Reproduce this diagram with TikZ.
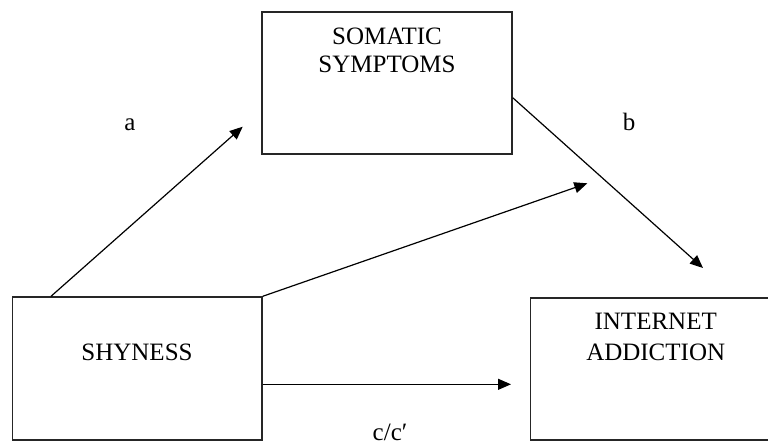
\documentclass[tikz,border=0pt]{standalone}
\usepackage{fontspec}
\setmainfont{Liberation Serif}
\usetikzlibrary{arrows.meta,calc}
\begin{document}
\begin{tikzpicture}[x=1pt,y=-1pt,
  box/.style={draw=black!85, line width=1.4pt, minimum width=250pt, minimum height=142pt, inner sep=0pt},
  txt/.style={font=\fontsize{25}{30}\selectfont, anchor=base, inner sep=0pt},
  lbl/.style={font=\fontsize{25}{30}\selectfont, anchor=base, inner sep=0pt},
  arr/.style={line width=1.2pt, -{Triangle[length=13pt,width=11pt]}}]
\useasboundingbox (0,0) rectangle (768,445);
\clip (0,0) rectangle (768,445);
\node[box] (som) at (387,83) {};
\node[box, minimum width=249.5pt, minimum height=143pt] (shy) at (137.25,368.5) {};
\node[box] (int) at (655.5,369) {};
\node[txt] (somt1) at (387,44.3) {SOMATIC};
\node[txt] (somt2) at (387,72.3) {SYMPTOMS};
\node[txt] (shyt) at (137,360) {SHYNESS};
\node[txt] (intt1) at (655.7,329.3) {INTERNET};
\node[txt] (intt2) at (655.7,360) {ADDICTION};
\node[lbl] (la) at (130,130) {a};
\node[lbl] (lb) at (629,130) {b};
\node[lbl] (lc) at (390,440) {c/c′};
\coordinate (ta) at (242.7,126.7);
\coordinate (tm) at (587.3,183.3);
\coordinate (tb) at (703,268);
\coordinate (tc) at (511,384.3);
\draw[arr] ($(shy.north west)+(39.2,0)$) -- (ta);
\draw[arr] (shy.north east) -- (tm);
\draw[arr] ($(som.east)+(0,14.7)$) -- (tb);
\draw[arr] ($(shy.east)+(0,15.8)$) -- (tc);
\end{tikzpicture}
\end{document}
